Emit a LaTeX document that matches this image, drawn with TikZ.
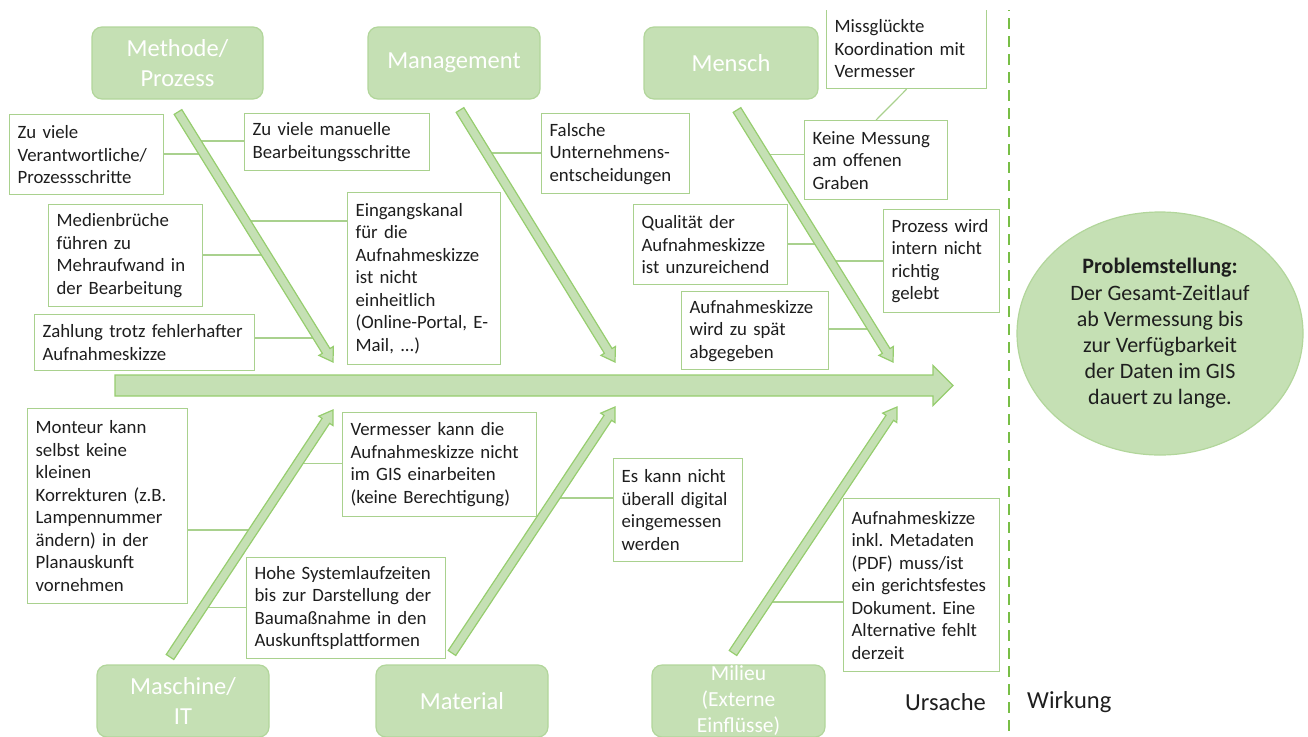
\documentclass[tikz,border=0pt]{standalone}
\usepackage{fontspec}
\setmainfont{Carlito}
\usetikzlibrary{calc,shapes.geometric}

\definecolor{catfill}{RGB}{197,224,180}
\definecolor{catline}{RGB}{178,214,155}
\definecolor{boxline}{RGB}{169,209,142}
\definecolor{arrowline}{RGB}{150,205,110}
\definecolor{divgreen}{RGB}{120,190,70}
\definecolor{textgray}{RGB}{30,30,30}

\newcommand{\causefont}{\fontsize{18.8}{22.5}\selectfont}
\newcommand{\catfont}{\fontsize{24.5}{30}\selectfont}
\newcommand{\smallcatfont}{\fontsize{21.5}{26}\selectfont}
\newcommand{\probfont}{\fontsize{22}{26.2}\selectfont}

% fat arrow: start, tip, half shaft, half head, head length
\newcommand{\fatarrow}[5]{%
  \coordinate (fa) at ($(#2)!#5!(#1)$);
  \filldraw[arrowbody] ($(#1)!#3!90:(#2)$) -- ($(fa)!#3!90:(#2)$) -- ($(fa)!#4!90:(#2)$) -- (#2)
    -- ($(fa)!#4!-90:(#2)$) -- ($(fa)!#3!-90:(#2)$) -- ($(#1)!#3!-90:(#2)$) -- cycle;
}

\begin{document}
\frenchspacing
\begin{tikzpicture}[x=1pt, y=-1pt,
    cat/.style={rounded corners=10pt, fill=catfill, draw=catline, line width=1.2pt,
      text=white, align=center, font=\catfont, inner sep=0pt},
    cause/.style={anchor=north west, draw=boxline, fill=white, line width=1.2pt,
      text=textgray, align=left, font=\causefont, inner xsep=8pt, inner ysep=2pt},
    link/.style={draw=boxline, line width=1.2pt},
    arrowbody/.style={fill=catfill, draw=arrowline, line width=1.2pt},
    divider/.style={draw=divgreen, line width=2.5pt, dash pattern=on 11pt off 7pt}]
  \useasboundingbox (0,0) rectangle (1308,736);
  \clip (0,10) rectangle (1308,736);

  % categories
  \node[cat, minimum width=171pt, minimum height=72pt] (methode) at (177.5,63) {Methode/\\Prozess};
  \node[cat, minimum width=172pt, minimum height=72pt] (management) at (454,63) {Management};
  \node[cat, minimum width=174pt, minimum height=72pt] (mensch) at (731,63) {Mensch};
  \node[cat, minimum width=172pt, minimum height=72pt] (maschine) at (183,701) {Maschine/\\IT};
  \node[cat, minimum width=172pt, minimum height=72pt] (material) at (462,701) {Material};
  \node[cat, minimum width=173pt, minimum height=72pt, font=\smallcatfont] (milieu) at (738.5,701) {Milieu\\(Externe\\Einflüsse)};

  % causes
  \node[cause, text width=138pt, minimum height=80pt] (zuviele) at (9,114) {Zu viele\\Verantwortliche/\\Prozessschritte};
  \node[cause, text width=169pt, minimum height=57pt] (manuell) at (244,113) {Zu viele manuelle\\Bearbeitungsschritte};
  \node[cause, text width=138pt, minimum height=102pt] (medien) at (48,204) {Medienbrüche\\führen zu\\Mehraufwand in\\der Bearbeitung};
  \node[cause, text width=137pt, minimum height=172pt] (eingang) at (347,192) {Eingangskanal\\für die\\Aufnahmeskizze\\ist nicht\\einheitlich\\(Online-Portal, E-\\Mail, ...)};
  \node[cause, text width=204pt, minimum height=56pt] (zahlung) at (34,314) {Zahlung trotz fehlerhafter\\Aufnahmeskizze};
  \node[cause, text width=132pt, minimum height=80pt] (falsche) at (541,113) {Falsche\\Unternehmens-\\entscheidungen};
  \node[cause, text width=138pt, minimum height=80pt] (qualitaet) at (633,204) {Qualität der\\Aufnahmeskizze\\ist unzureichend};
  \node[cause, text width=131pt, minimum height=78pt] (spaet) at (681,291) {Aufnahmeskizze\\wird zu spät\\abgegeben};
  \node[cause, text width=127pt, minimum height=79pt] (keine) at (804,120) {Keine Messung\\am offenen\\Graben};
  \node[cause, text width=144pt, minimum height=80pt] (missglueckt) at (826,8) {Missglückte\\Koordination mit\\Vermesser};
  \node[cause, text width=100pt, minimum height=103pt] (prozess) at (883,209) {Prozess wird\\intern nicht\\richtig\\gelebt};
  \node[cause, text width=144pt, minimum height=195pt] (monteur) at (27,408) {Monteur kann\\selbst keine\\kleinen\\Korrekturen (z.B.\\Lampennummer\\ändern) in der\\Planauskunft\\vornehmen};
  \node[cause, text width=178pt, minimum height=104pt] (vermesser) at (342,412) {Vermesser kann die\\Aufnahmeskizze nicht\\im GIS einarbeiten\\(keine Berechtigung)};
  \node[cause, text width=183pt, minimum height=101pt] (hohe) at (246,557) {Hohe Systemlaufzeiten\\bis zur Darstellung der\\Baumaßnahme in den\\Auskunftsplattformen};
  \node[cause, text width=113pt, minimum height=103pt] (eskann) at (613,458) {Es kann nicht\\überall digital\\eingemessen\\werden};
  \node[cause, text width=140pt, minimum height=173pt] (inkl) at (843,498) {Aufnahmeskizze\\inkl. Metadaten\\(PDF) muss/ist\\ein gerichtsfestes\\Dokument. Eine\\Alternative fehlt\\derzeit};

  % problem
  \node[ellipse, fill=catfill, draw=catline, line width=1.2pt, inner sep=0pt,
    minimum width=286pt, minimum height=243pt, align=center, text=textgray, font=\probfont]
    (problem) at (1160,333.5) {\textbf{Problemstellung:}\\Der Gesamt-Zeitlauf\\ab Vermessung bis\\zur Verfügbarkeit\\der Daten im GIS\\dauert zu lange.};

  \draw[divider] (1009,0) -- (1009,736);
  \node[anchor=east, text=textgray, font=\catfont, inner sep=0pt] (ursache) at (986,702) {Ursache};
  \node[anchor=west, text=textgray, font=\catfont, inner sep=0pt] (wirkung) at (1027,702) {Wirkung};

  % bones
  \coordinate (spine-from) at (115,385.5);
  \coordinate (spine-to) at (953,385.5);
  \coordinate (methode-from) at (178,112);
  \coordinate (methode-to) at (333,362);
  \coordinate (management-from) at (460,110);
  \coordinate (management-to) at (615,362);
  \coordinate (mensch-from) at (737,110);
  \coordinate (mensch-to) at (893,362);
  \coordinate (maschine-from) at (170,657);
  \coordinate (maschine-to) at (333,410);
  \coordinate (material-from) at (452,653);
  \coordinate (material-to) at (615,407);
  \coordinate (milieu-from) at (733,653);
  \coordinate (milieu-to) at (897,407);

  \foreach \arm/\pos/\side in {methode/0.168/zuviele.east, methode/0.116/manuell.west,
      methode/0.572/medien.east, methode/0.436/eingang.west, methode/0.904/zahlung.east,
      management/0.171/falsche.west, mensch/0.175/keine.west, mensch/0.532/qualitaet.east,
      mensch/0.599/prozess.west, mensch/0.869/spaet.east, maschine/0.514/monteur.east,
      maschine/0.785/vermesser.west, maschine/0.202/hohe.west, material/0.630/eskann.west,
      milieu/0.207/inkl.west} {
    \coordinate (j) at ($(\arm-from)!\pos!(\arm-to)$);
    \draw[link] (j) -- (j -| \side);
  }
  \draw[link] (missglueckt.south) -- (keine.north);

  \fatarrow{spine-from}{spine-to}{10.5pt}{20pt}{20pt}
  \foreach \arm in {methode, management, mensch, maschine, material, milieu} {
    \fatarrow{\arm-from}{\arm-to}{4.5pt}{8.5pt}{13pt}
  }
\end{tikzpicture}
\end{document}
